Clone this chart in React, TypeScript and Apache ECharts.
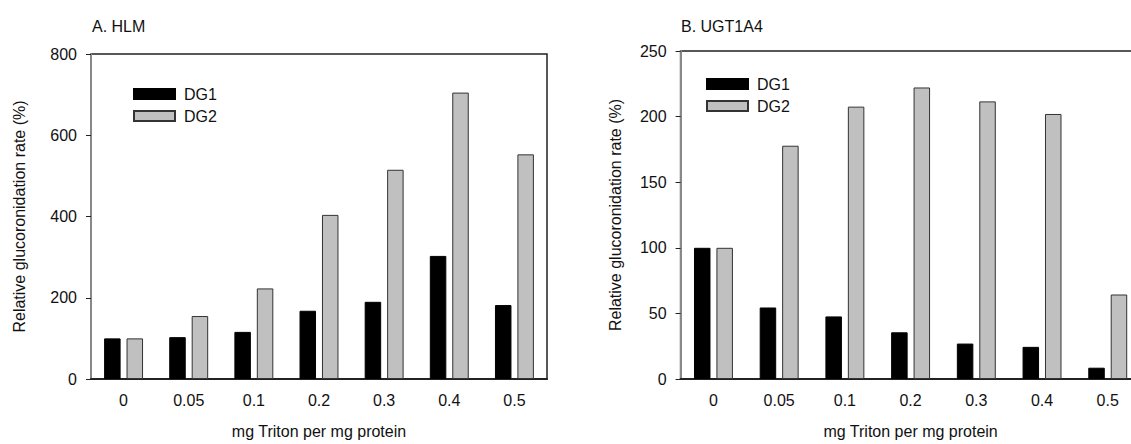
import React, { useEffect, useRef } from "react";
import * as echarts from "echarts";

const categories = ["0", "0.05", "0.1", "0.2", "0.3", "0.4", "0.5"];
const hlmDG1 = [100, 103, 116, 168, 190, 303, 182];
const hlmDG2 = [100, 155, 223, 404, 515, 705, 553];
const ugtDG1 = [100, 54.5, 47.7, 35.6, 27, 24.5, 8.6];
const ugtDG2 = [100, 177.8, 207.6, 222.2, 211.6, 202, 64.4];
const seriesNames = ["DG1", "DG2"];
const panelTitles = ["A. HLM", "B. UGT1A4"];
const xName = "mg Triton per mg protein";
const yName = "Relative glucoronidation rate (%)";

const FONT = "'Liberation Sans', Arial, Helvetica, sans-serif";
const FS = 16;

export default function App() {
  const ref = useRef<HTMLDivElement>(null);
  useEffect(() => {
    if (!ref.current) return;
    const chart = echarts.init(ref.current, undefined, { renderer: "svg" });
    const textColor = "#111";
    const mkX = (gridIndex: number) => ({
      type: "category",
      gridIndex,
      data: categories,
      name: xName,
      nameLocation: "middle",
      nameGap: 44,
      nameTextStyle: { fontFamily: FONT, fontSize: FS, color: textColor },
      axisLine: { show: true, lineStyle: { color: "#222", width: 2 } },
      axisTick: { show: false },
      axisLabel: { margin: 13, fontFamily: FONT, fontSize: FS, color: textColor },
      splitLine: { show: false },
    });
    const mkY = (gridIndex: number, max: number, interval: number, gap: number) => ({
      type: "value",
      gridIndex,
      min: 0,
      max,
      interval,
      name: yName,
      nameLocation: "middle",
      nameGap: gap,
      nameTextStyle: { fontFamily: FONT, fontSize: FS, color: textColor },
      axisLine: { show: true, lineStyle: { color: "#888", width: 2 } },
      axisTick: { show: true, length: 5, lineStyle: { color: "#222", width: 1 } },
      axisLabel: { margin: 14, fontFamily: FONT, fontSize: FS, color: textColor },
      splitLine: { show: false },
    });
    const barCommon = { type: "bar", barWidth: 16.5, barGap: "36%" };
    const dg1Style = { color: "#000", borderColor: "#000", borderWidth: 1 };
    const dg2Style = { color: "#c0c0c0", borderColor: "#333", borderWidth: 1 };
    const legendCommon = {
      orient: "vertical",
      icon: "rect",
      itemWidth: 41,
      itemHeight: 10,
      itemGap: 6,
      selectedMode: false,
      data: seriesNames,
      textStyle: { fontFamily: FONT, fontSize: FS, color: textColor, padding: [0, 0, 0, 4] },
    };
    const titleStyle = { fontFamily: FONT, fontSize: FS, fontWeight: "normal", color: textColor };
    chart.setOption({
      animation: false,
      backgroundColor: "#fff",
      title: [
        { text: panelTitles[0], left: 92, top: 18.5, textStyle: titleStyle, padding: 0 },
        { text: panelTitles[1], left: 681, top: 18.5, textStyle: titleStyle, padding: 0 },
      ],
      legend: [
        { ...legendCommon, left: 133, top: 86, padding: 0 },
        { ...legendCommon, left: 706, top: 76, padding: 0 },
      ],
      grid: [
        { left: 91, top: 54, width: 456, height: 327, show: true, borderColor: "#222", borderWidth: 1.5, backgroundColor: "transparent" },
        { left: 680.6, top: 51, width: 460, height: 329.7, show: true, borderColor: "#222", borderWidth: 1.5, backgroundColor: "transparent" },
      ],
      xAxis: [mkX(0), mkX(1)],
      yAxis: [mkY(0, 800, 200, 64), mkY(1, 250, 50, 57)],
      series: [
        { ...barCommon, name: seriesNames[0], xAxisIndex: 0, yAxisIndex: 0, data: hlmDG1, itemStyle: dg1Style },
        { ...barCommon, name: seriesNames[1], xAxisIndex: 0, yAxisIndex: 0, data: hlmDG2, itemStyle: dg2Style },
        { ...barCommon, name: seriesNames[0], xAxisIndex: 1, yAxisIndex: 1, data: ugtDG1, itemStyle: dg1Style },
        { ...barCommon, name: seriesNames[1], xAxisIndex: 1, yAxisIndex: 1, data: ugtDG2, itemStyle: dg2Style },
      ],
    });
    return () => chart.dispose();
  }, []);
  return (
    <div style={{ position: "fixed", left: 0, top: 0, width: 1131, height: 444, overflow: "hidden", background: "#fff" }}>
      <div ref={ref} style={{ width: 1160, height: 444 }} />
    </div>
  );
}
